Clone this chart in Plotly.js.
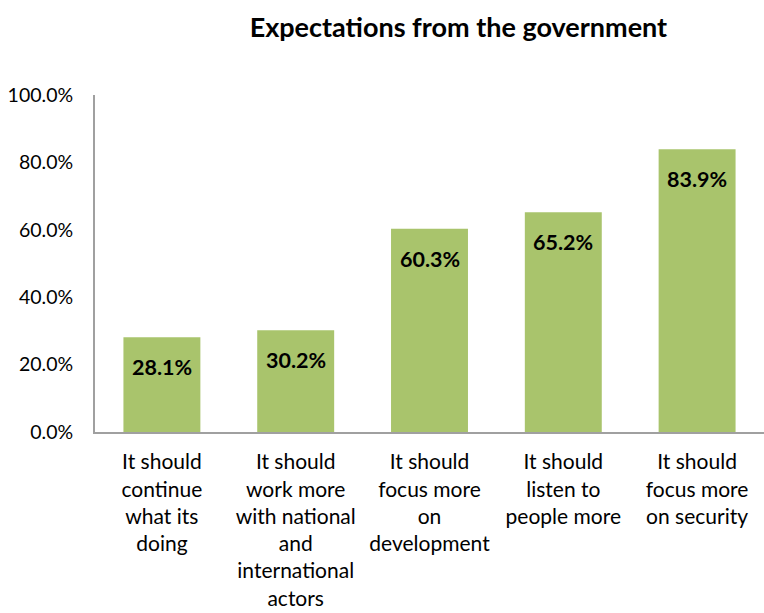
<!DOCTYPE html>
<html><head><meta charset="utf-8">
<script src="https://cdn.plot.ly/plotly-3.0.1.min.js"></script>
<style>html,body{margin:0;padding:0;background:#fff}#chart{width:764px;height:613px}</style>
</head><body><div id="chart"></div>
<script>
var categories = [
  "It should<br>continue<br>what its<br>doing",
  "It should<br>work more<br>with national<br>and<br>international<br>actors",
  "It should<br>focus more<br>on<br>development",
  "It should<br>listen to<br>people more",
  "It should<br>focus more<br>on security"
];
var values = [0.281, 0.302, 0.603, 0.652, 0.839];
var labels = ["28.1%", "30.2%", "60.3%", "65.2%", "83.9%"];

var trace = {
  type: 'bar', x: categories, y: values,
  marker: {color: '#a9c46c'}, width: 0.575, hoverinfo: 'none'
};
var annotations = categories.map(function(c, i){
  return {x: c, y: values[i], xref: 'x', yref: 'y', text: '<b>' + labels[i] + '</b>',
    showarrow: false, yshift: -30, font: {family: 'Lato, sans-serif', size: 21.5, color: '#000'}};
});
var layout = {
  width: 764, height: 613,
  margin: {l: 95, r: 0, t: 95, b: 181},
  paper_bgcolor: '#fff', plot_bgcolor: '#fff',
  title: {text: '<b>Expectations from the government</b>', x: 0.6, xref: 'container', xanchor: 'center', y: 0.955, yref: 'container', yanchor: 'middle',
    font: {family: 'Lato, sans-serif', size: 27, color: '#000'}},
  showlegend: false,
  xaxis: {showline: true, linecolor: '#a0a0a0', linewidth: 2, ticks: '', showgrid: false, zeroline: false,
    ticklabelstandoff: 10,
    tickfont: {family: 'Lato, sans-serif', size: 21, color: '#000'}, tickangle: 0, automargin: false},
  yaxis: {range: [0, 1], dtick: 0.2, tickformat: '.1%', showline: true, linecolor: '#a0a0a0', linewidth: 2,
    ticks: '', showgrid: false, zeroline: false, ticklabelstandoff: 16,
    tickfont: {family: 'Lato, sans-serif', size: 19.5, color: '#000'}, automargin: false},
  annotations: annotations
};
Plotly.newPlot('chart', [trace], layout, {displayModeBar: false, staticPlot: true});
</script></body></html>
